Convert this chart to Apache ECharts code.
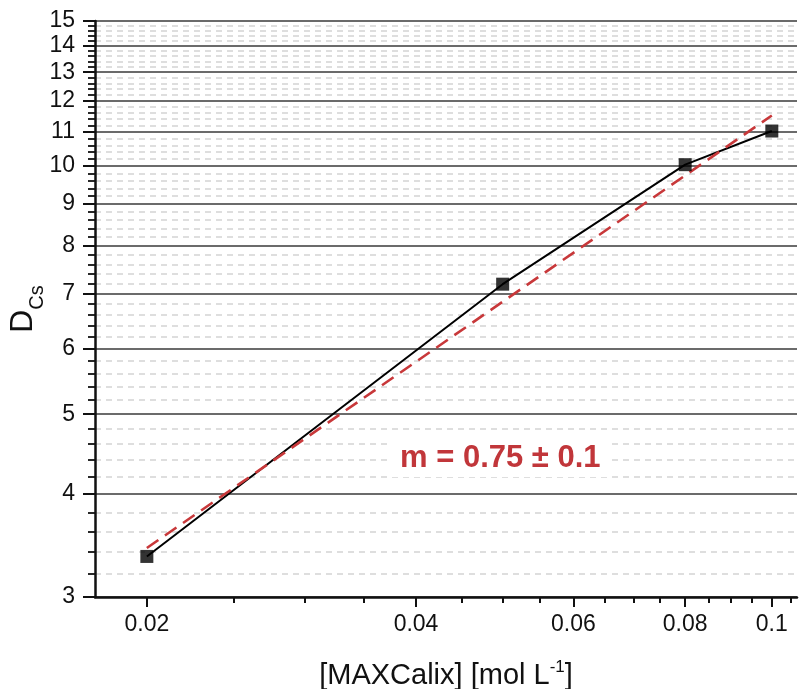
<!DOCTYPE html>
<html>
<head>
<meta charset="utf-8">
<script src="https://cdn.jsdelivr.net/npm/echarts@6/dist/echarts.min.js"></script>
<style>
  html, body { margin: 0; padding: 0; background: #fff; }
  #main { width: 799px; height: 689px; }
</style>
</head>
<body>
<div id="main"></div>
<script>
// measured points
var concMAXCalix = [0.02, 0.05, 0.08, 0.1];
var dCs = [3.36, 7.19, 10.04, 11.03];
// power-law fit, slope 0.75 in log-log
var fitConc = [0.02, 0.1];
var fitD = [3.44, 11.52];

var xMajorTicks = [0.02, 0.04, 0.06, 0.08, 0.1];
var xMinorTicks = [0.025, 0.03, 0.035, 0.045, 0.05, 0.055, 0.065, 0.07, 0.075, 0.085, 0.09, 0.095, 0.105];
var yMajorTicks = [3, 4, 5, 6, 7, 8, 9, 10, 11, 12, 13, 14, 15];
var yMinorTicks = [];
for (var i = 0; i < yMajorTicks.length - 1; i++) {
    for (var k = 1; k <= 4; k++) {
        yMinorTicks.push(+(yMajorTicks[i] + k * 0.2).toFixed(1));
    }
}

var font = 'Arial, "Liberation Sans", sans-serif';

function pairs(xs, ys) {
    return xs.map(function (x, i) { return [x, ys[i]]; });
}

var chart = echarts.init(document.getElementById('main'));
chart.setOption({
    animation: false,
    grid: { left: 95, top: 21, right: 2, bottom: 92, outerBoundsMode: 'none' },
    xAxis: [{
        type: 'log',
        position: 'bottom',
        min: 0.0175,
        max: 0.1067,
        name: '[MAXCalix] [mol L{sup|-1}]',
        nameLocation: 'middle',
        nameGap: 62,
        nameTextStyle: {
            fontFamily: font, fontSize: 29, color: '#111',
            rich: { sup: { fontFamily: font, fontSize: 17, color: '#111', verticalAlign: 'top', padding: [0, 0, 16, 0] } }
        },
        axisLine: { onZero: false, lineStyle: { color: '#111', width: 2.5 } },
        axisTick: { customValues: xMajorTicks, length: 10, lineStyle: { color: '#111', width: 2 } },
        axisLabel: {
            customValues: xMajorTicks, margin: 16,
            fontFamily: font, fontSize: 23, color: '#111',
            formatter: function (v) { return String(+v.toFixed(3)); }
        },
        splitLine: { show: false }
    }, {
        type: 'log',
        position: 'bottom',
        min: 0.0175,
        max: 0.1067,
        axisLine: { show: false, onZero: false },
        axisTick: { customValues: xMinorTicks, length: 6, lineStyle: { color: '#111', width: 2 } },
        axisLabel: { show: false },
        splitLine: { show: false }
    }],
    yAxis: [{
        type: 'log',
        position: 'left',
        min: 3,
        max: 15,
        name: '{d|D}{s|Cs}',
        nameLocation: 'middle',
        nameRotate: 90,
        nameGap: 48,
        nameMoveOverlap: false,
        nameTextStyle: {
            rich: {
                d: { fontFamily: font, fontSize: 32, color: '#111', verticalAlign: 'bottom', padding: [0, 0, 8, 0] },
                s: { fontFamily: font, fontSize: 20, color: '#111', verticalAlign: 'bottom' }
            }
        },
        axisLine: { onZero: false, lineStyle: { color: '#111', width: 2.5 } },
        axisTick: { customValues: yMajorTicks, length: 12, lineStyle: { color: '#111', width: 2 } },
        axisLabel: {
            customValues: yMajorTicks, margin: 20,
            fontFamily: font, fontSize: 23, color: '#111'
        },
        splitLine: { show: true, lineStyle: { color: '#3a3a3a', width: 1.6 } }
    }, {
        type: 'log',
        position: 'left',
        min: 3,
        max: 15,
        axisLine: { show: false, onZero: false },
        axisTick: { customValues: yMinorTicks, length: 7, lineStyle: { color: '#111', width: 1.8 } },
        axisLabel: { show: false },
        splitLine: { show: true, lineStyle: { color: '#d3d3d3', width: 1.5, type: [6, 5] } }
    }],
    series: [{
        name: 'data',
        type: 'line',
        xAxisIndex: 0, yAxisIndex: 0,
        data: pairs(concMAXCalix, dCs),
        showSymbol: false,
        lineStyle: { color: '#000', width: 2 },
        z: 3
    }, {
        name: 'fit',
        type: 'line',
        xAxisIndex: 0, yAxisIndex: 0,
        data: pairs(fitConc, fitD),
        showSymbol: false,
        lineStyle: { color: '#c8383a', width: 2.6, type: [14, 8] },
        z: 4
    }, {
        name: 'points',
        type: 'scatter',
        xAxisIndex: 0, yAxisIndex: 0,
        data: pairs(concMAXCalix, dCs),
        symbol: 'rect',
        symbolSize: 13,
        itemStyle: { color: '#000' },
        z: 5
    }],
    graphic: [{
        type: 'text',
        left: 392,
        top: 440,
        z: 10,
        style: {
            text: 'm = 0.75 \u00b1 0.1',
            font: 'bold 31px ' + font,
            fill: '#c1363a',
            backgroundColor: '#fff',
            padding: [3, 8, 3, 8]
        }
    }]
});
</script>
</body>
</html>
